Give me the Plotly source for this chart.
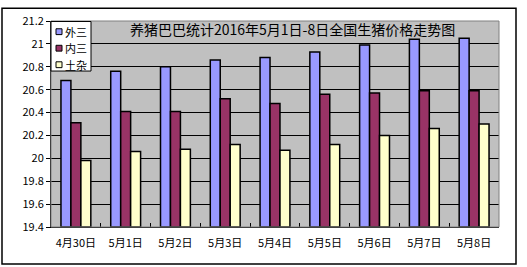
import plotly.graph_objects as go

categories = ["4月30日", "5月1日", "5月2日", "5月3日", "5月4日", "5月5日", "5月6日", "5月7日", "5月8日"]
waisan = [20.68, 20.76, 20.80, 20.86, 20.88, 20.93, 20.99, 21.04, 21.05]
neisan = [20.31, 20.41, 20.41, 20.52, 20.48, 20.56, 20.57, 20.59, 20.59]
tuza = [19.98, 20.06, 20.08, 20.12, 20.07, 20.12, 20.20, 20.26, 20.30]
series_names = ["外三", "内三", "土杂"]
colors = ["#9999FF", "#993366", "#FFFFCC"]
y_ticks = [19.4, 19.6, 19.8, 20.0, 20.2, 20.4, 20.6, 20.8, 21.0, 21.2]
y_tick_labels = ["19.4", "19.6", "19.8", "20", "20.2", "20.4", "20.6", "20.8", "21", "21.2"]
y_base = 19.4

CJK = "SimSun, 'Noto Sans CJK SC', sans-serif"

# plot area in pixels
L, R, T, B = 51, 499, 15, 227
W, H = R - L, B - T
def px(x):
    return (x - L) / W
def py(y):
    return (B - y) / H

fig = go.Figure()
for name, vals, col in zip(series_names, [waisan, neisan, tuza], colors):
    fig.add_trace(go.Bar(
        x=categories, y=[v - y_base for v in vals], base=y_base, name=name,
        marker=dict(color=col, line=dict(color="black", width=1.5)),
        showlegend=False,
    ))

shapes = [
    dict(type="rect", xref="paper", yref="paper", x0=0, x1=1, y0=0, y1=1,
         line=dict(color="#808080", width=1), layer="above"),
    dict(type="rect", xref="paper", yref="paper",
         x0=px(2), x1=px(516), y0=py(265), y1=py(2),
         line=dict(color="black", width=1.5)),
    # legend box
    dict(type="rect", xref="paper", yref="paper",
         x0=px(51), x1=px(91), y0=py(66.5), y1=py(15.5),
         fillcolor="white", line=dict(color="black", width=1), layer="above"),
]
annotations = [dict(
    text="养猪巴巴统计2016年5月1日-8日全国生猪价格走势图",
    xref="paper", yref="paper", x=px(292), y=py(23), xanchor="center", yanchor="middle",
    showarrow=False, font=dict(size=14, family=CJK, color="black"),
)]
for i, (name, col) in enumerate(zip(series_names, colors)):
    cy = 26 + i * 17
    shapes.append(dict(type="rect", xref="paper", yref="paper",
                       x0=px(56), x1=px(62), y0=py(cy + 3), y1=py(cy - 3),
                       fillcolor=col, line=dict(color="black", width=1), layer="above"))
    annotations.append(dict(text=name, xref="paper", yref="paper",
                            x=px(75.5), y=py(cy), xanchor="center", yanchor="middle",
                            showarrow=False, borderpad=0,
                            font=dict(size=11, family=CJK, color="black")))

fig.update_layout(
    width=527, height=267,
    margin=dict(l=L, r=527 - R, t=T, b=267 - B),
    paper_bgcolor="white",
    plot_bgcolor="#C0C0C0",
    barmode="group",
    bargap=0.4,
    bargroupgap=0,
    font=dict(family=CJK, color="black", size=11),
    showlegend=False,
    xaxis=dict(
        showgrid=False, showline=True, linecolor="black", linewidth=1,
        ticks="inside", tickson="boundaries", ticklen=4, tickcolor="black",
        tickfont=dict(size=11, family=CJK), ticklabelstandoff=6,
    ),
    yaxis=dict(
        range=[19.4, 21.2],
        tickvals=y_ticks, ticktext=y_tick_labels,
        showgrid=True, gridcolor="black", gridwidth=1,
        showline=True, linecolor="black", linewidth=1,
        ticks="outside", ticklen=4, tickcolor="black",
        tickfont=dict(size=11, family=CJK),
        zeroline=False,
    ),
    annotations=annotations,
    shapes=shapes,
)

fig.write_html("out.html")
